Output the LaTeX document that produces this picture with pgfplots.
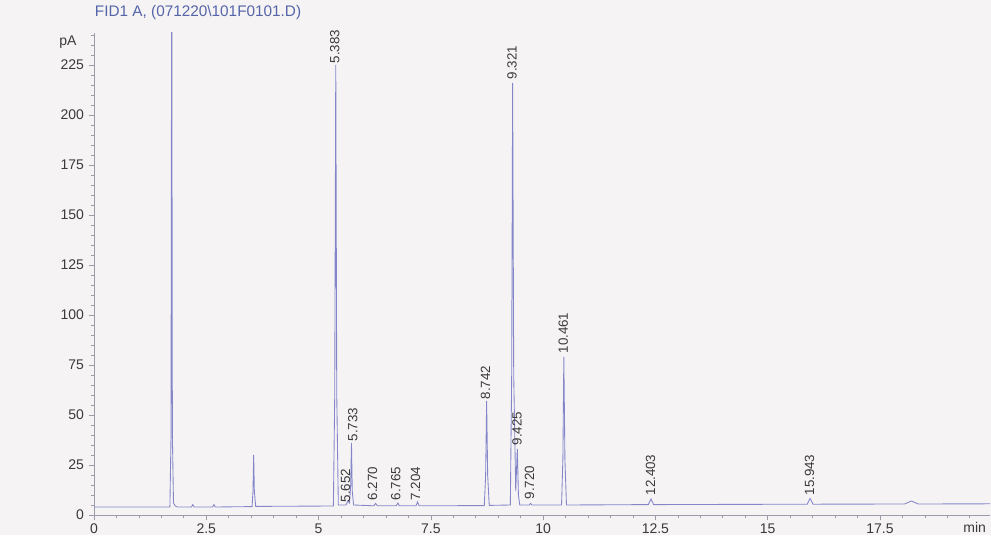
\documentclass[border=0pt]{standalone}
\usepackage{pgfplots}
\pgfplotsset{compat=1.18}
\usepackage{fontspec}
\setmainfont{Liberation Sans}
\definecolor{bg}{HTML}{F6F3F5}
\definecolor{trace}{HTML}{8486C8}
\definecolor{axgray}{HTML}{9C9CA8}
\definecolor{titlec}{HTML}{5565A8}
\definecolor{txt}{HTML}{3A3A3A}
\tikzset{pk/.style={rotate=90, anchor=west, inner sep=1pt, text=txt, font=\fontsize{10}{12}\selectfont}}
\begin{document}
\begin{tikzpicture}
\useasboundingbox (0,0) rectangle (743.25pt,401.25pt);
\fill[bg] (0,0) rectangle (743.25pt,401.25pt);
\begin{axis}[
  at={(70.5pt,15pt)}, anchor=south west,
  scale only axis, width=672pt, height=361.5pt,
  xmin=0, xmax=19.95, ymin=0, ymax=241,
  axis lines=left, axis line style={axgray,-, line width=0.6pt},
  xtick={0,2.5,...,20}, ytick={0,25,...,250},
  minor tick num=4,
  tick align=outside,
  major tick length=4pt, minor tick length=2.5pt,
  every tick/.style={axgray, line width=0.5pt},
  tick label style={txt, font=\fontsize{10.5}{12}\selectfont},
  xticklabel style={yshift=1pt},
  /pgf/number format/assume math mode=true,
  /pgf/number format/1000 sep={},
  clip=true, clip mode=individual,
]
\addplot[trace, line width=0.65pt] coordinates {
(0,4) (1.69,4) (1.715,40) (1.73,300) (1.745,40) (1.77,6) (1.81,4.5) (1.86,4)
(2.17,4) (2.2,5.2) (2.23,4) (2.64,4) (2.67,5.2) (2.70,4)
(3.52,4.2) (3.54,12) (3.555,30) (3.57,12) (3.60,4.3)
(5.33,4.5) (5.36,60) (5.383,225) (5.405,60) (5.44,5)
(5.61,5) (5.652,7) (5.69,6) (5.715,15) (5.733,36) (5.75,12) (5.78,5)
(6.23,4.6) (6.27,5.8) (6.31,4.6)
(6.73,4.6) (6.765,6) (6.80,4.6)
(7.17,4.6) (7.204,6.5) (7.24,4.6)
(8.69,4.7) (8.72,20) (8.742,57) (8.765,20) (8.80,4.8)
(9.27,5) (9.30,70) (9.321,216) (9.345,70) (9.39,12) (9.425,33) (9.45,10) (9.48,5)
(9.69,5) (9.72,5.8) (9.75,5)
(10.41,5) (10.44,28) (10.461,79) (10.485,28) (10.52,5)
(12.34,5.2) (12.403,8) (12.46,5.2)
(15.88,5.4) (15.943,8.3) (16.01,5.4)
(18.05,5.5) (18.2,7) (18.35,5.5) (19.95,5.6)
};
\node[pk] at (axis cs:5.36,225) {5.383};
\node[pk] at (axis cs:5.60,5.5) {5.652};
\node[pk] at (axis cs:5.76,36) {5.733};
\node[pk] at (axis cs:6.20,6.5) {6.270};
\node[pk] at (axis cs:6.72,6.5) {6.765};
\node[pk] at (axis cs:7.16,6.5) {7.204};
\node[pk] at (axis cs:8.72,57) {8.742};
\node[pk] at (axis cs:9.31,217) {9.321};
\node[pk] at (axis cs:9.42,34) {9.425};
\node[pk] at (axis cs:9.70,7) {9.720};
\node[pk] at (axis cs:10.45,80) {10.461};
\node[pk] at (axis cs:12.39,9) {12.403};
\node[pk] at (axis cs:15.93,9) {15.943};
\end{axis}
\node[txt, font=\fontsize{10.5}{12}\selectfont] at (51pt,369.5pt) {pA};
\node[txt, font=\fontsize{10.5}{12}\selectfont] at (731pt,6pt) {min};
\node[titlec, anchor=west, inner sep=0pt, font=\fontsize{11.5}{13}\selectfont] at (71pt,392pt) {FID1 A, (071220\textbackslash 101F0101.D)};
\end{tikzpicture}
\end{document}
